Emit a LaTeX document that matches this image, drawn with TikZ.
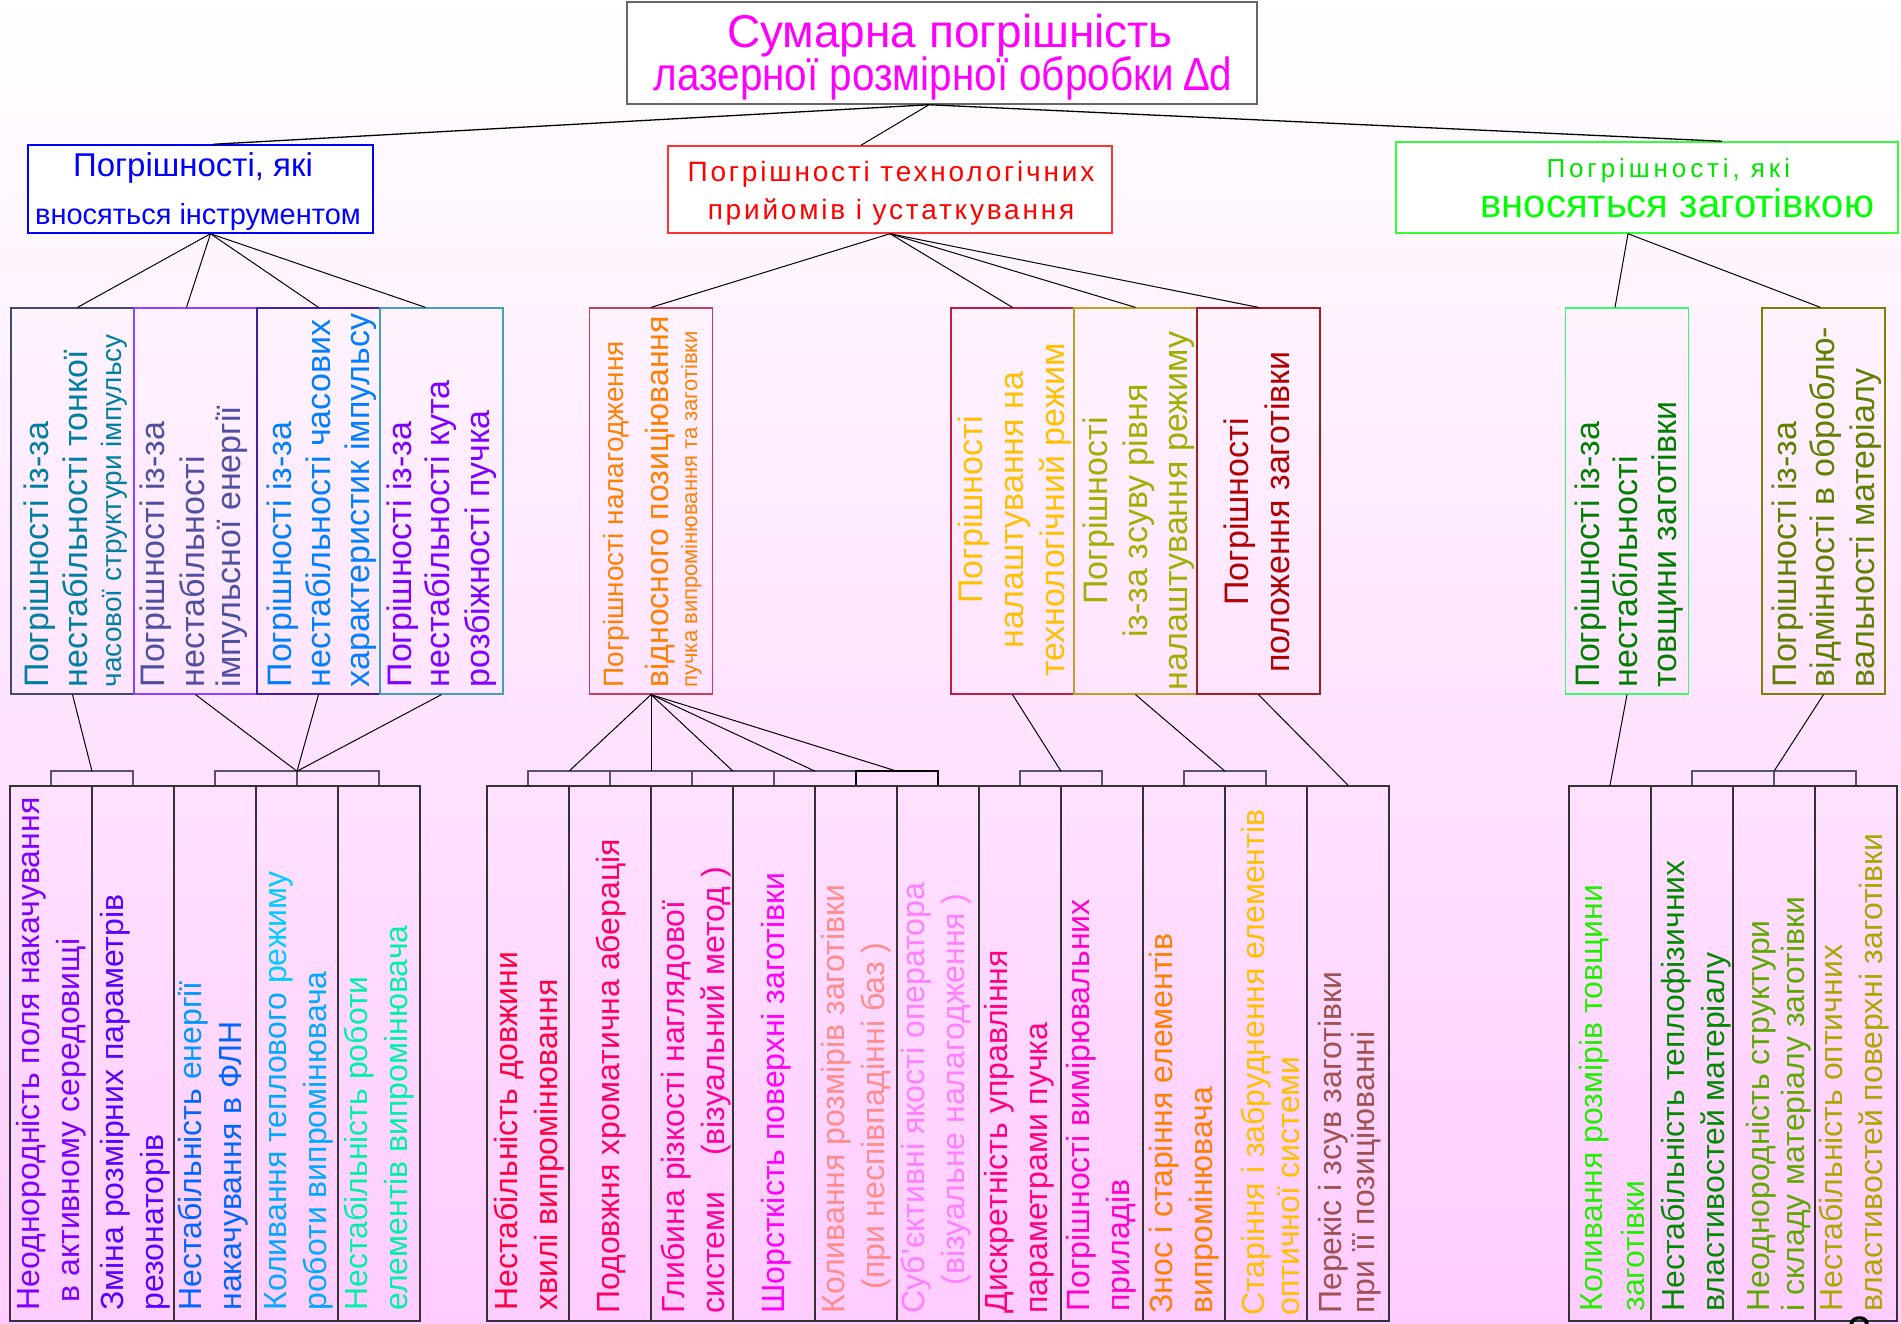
\documentclass[tikz,border=0pt]{standalone}
\usepackage{graphicx}
\usepackage{fontspec}
\setmainfont{Liberation Sans}
\usetikzlibrary{calc,positioning}

% Colours of frames and texts
\definecolor{bgpink}{HTML}{FFCCFF}
\definecolor{titlegray}{HTML}{666666}
\definecolor{titlemag}{HTML}{FF00FF}
\definecolor{instblue}{HTML}{0000FF}
\definecolor{techred}{HTML}{FF0000}
\definecolor{workgreen}{HTML}{00FF00}
\definecolor{lowframe}{HTML}{333333}
\definecolor{bracketgray}{HTML}{555566}

\tikzset{
  headbox/.style={draw, line width=1.5pt, fill=white, inner sep=0pt},
  midbox/.style={draw, line width=1.2pt, inner sep=0pt, minimum width=123pt, minimum height=386pt},
  lowbox/.style={draw=lowframe, line width=1.6pt, inner sep=0pt, minimum width=82pt, minimum height=535pt},
  link/.style={line width=1pt},
  bracket/.style={draw=bracketgray, line width=1.5pt}
}

\begin{document}
\begin{tikzpicture}[x=1pt,y=-1pt]
  % Colors
  \definecolor{frameA}{HTML}{404878}
  \definecolor{frameB}{HTML}{9040FF}
  \definecolor{frameC}{HTML}{4020A0}
  \definecolor{frameD}{HTML}{40A0C0}
  \definecolor{frameE}{HTML}{C04060}
  \definecolor{frameF}{HTML}{C02040}
  \definecolor{frameG}{HTML}{C0A020}
  \definecolor{frameH}{HTML}{A02020}
  \definecolor{frameI}{HTML}{33FF66}
  \definecolor{frameJ}{HTML}{808000}
  \definecolor{txtA}{HTML}{0080A0}
  \definecolor{txtB}{HTML}{5050A0}
  \definecolor{txtC}{HTML}{0080FF}
  \definecolor{txtD}{HTML}{8000FF}
  \definecolor{txtE}{HTML}{FF8000}
  \definecolor{txtF}{HTML}{FFC000}
  \definecolor{txtG}{HTML}{A0B000}
  \definecolor{txtH}{HTML}{B00000}
  \definecolor{txtI}{HTML}{008000}
  \definecolor{txtJ}{HTML}{608000}
  \definecolor{low1}{HTML}{8000FF}
  \definecolor{low2}{HTML}{5A00FF}
  \definecolor{low3}{HTML}{0066FF}
  \definecolor{low3b}{HTML}{0099FF}
  \definecolor{low4}{HTML}{00AAFF}
  \definecolor{low4b}{HTML}{00CCFF}
  \definecolor{low5}{HTML}{00F0A8}
  \definecolor{low6}{HTML}{FF0040}
  \definecolor{low7}{HTML}{FF0060}
  \definecolor{low8}{HTML}{FF00A0}
  \definecolor{low9}{HTML}{FF00FF}
  \definecolor{low10}{HTML}{FF8C8C}
  \definecolor{low11}{HTML}{FF80FF}
  \definecolor{low12}{HTML}{FF0080}
  \definecolor{low13}{HTML}{FF00CC}
  \definecolor{low16}{HTML}{A05050}
  \definecolor{low17}{HTML}{22EE00}
  \definecolor{low18}{HTML}{008A00}
  \definecolor{low19}{HTML}{5FA800}
  \definecolor{low20}{HTML}{A8A800}

  % Styles
  \tikzstyle{vtext}=[rotate=90, anchor=north west, inner sep=0pt, align=left, font=\fontsize{32}{40}\selectfont]
  \tikzstyle{mtext}=[rotate=90, anchor=north west, inner sep=0pt, align=left, font=\fontsize{34}{39}\selectfont]
  \tikzstyle{ctext}=[rotate=90, anchor=north, inner sep=0pt, align=center, font=\fontsize{34}{41}\selectfont]

  % Background
  \shade[top color=white, bottom color=bgpink] (0,0) rectangle (1901,1324);
  \useasboundingbox (0,0) rectangle (1901,1324);

  % Head boxes
  \node[headbox, draw=titlegray, minimum width=630pt, minimum height=102pt] (total) at (942,53) {};
  \node[font=\fontsize{46}{46}\selectfont, text=titlemag, anchor=base] (title1) at (950,48)
    {Сумарна погрішність};
  \node[font=\fontsize{46.5}{46.5}\selectfont, text=titlemag, anchor=base] (title2) at (943,91)
    {\scalebox{0.87}[1]{лазерної розмірної обробки ∆d}};

  \node[headbox, draw=instblue, minimum width=345pt, minimum height=88pt] (inst) at (200.5,189) {};
  \node[font=\fontsize{33}{33}\selectfont, text=instblue, anchor=base] (inst1) at (193,177) {Погрішності, які};
  \node[font=\fontsize{29}{29}\selectfont, text=instblue, anchor=base] (inst2) at (198,225) {вносяться інструментом};

  \node[headbox, draw=techred!80, minimum width=444pt, minimum height=87pt] (tech) at (890,189.5) {};
  \node[font=\fontsize{28}{28}\selectfont\addfontfeatures{LetterSpace=10}, text=techred, anchor=base] (tech1) at (891,182) {Погрішності технологічних};
  \node[font=\fontsize{28}{28}\selectfont\addfontfeatures{LetterSpace=10}, text=techred, anchor=base] (tech2) at (891,220) {прийомів і устаткування};

  \node[headbox, draw=workgreen!80!white, minimum width=502pt, minimum height=91pt] (work) at (1647,187.5) {};
  \node[font=\fontsize{26}{26}\selectfont\addfontfeatures{LetterSpace=15}, text=workgreen!90!black, anchor=base west] (work1) at (1543,178) {Погрішності, які};
  \node[font=\fontsize{40}{40}\selectfont, text=workgreen, anchor=base west] (work2) at (1477,218) {вносяться заготівкою};

  % Middle frames
  \foreach \i/\x/\c in {1/72.5/frameA, 2/195.5/frameB, 3/318.5/frameC, 4/441.5/frameD,
                        5/651/frameE, 6/1012.5/frameF, 7/1135.5/frameG, 8/1258.5/frameH,
                        9/1627/frameI, 10/1823.5/frameJ}
    \node[midbox, draw=\c] (l\i) at (\x,501) {};

  \node[mtext, text=txtA] (m1) at ([shift={(10.7,-7)}]l1.south west)
    {\strut Погрішності із-за\\ нестабільності тонкої\\[-5pt] {\fontsize{28}{39}\selectfont часової структури імпульсу}};
  \node[mtext, text=txtB] (m2) at ([shift={(3.7,-7)}]l2.south west)
    {\strut Погрішності із-за\\[1pt] нестабільності\\[-3pt] імпульсної енергії};
  \node[mtext, text=txtC] (m3) at ([shift={(7.7,-7)}]l3.south west)
    {\strut Погрішності із-за\\ нестабільності часових\\ характеристик імпульсу};
  \node[mtext, text=txtD] (m4) at ([shift={(4.7,-7)}]l4.south west)
    {\strut Погрішності із-за\\[-1pt] нестабільності кута\\[1pt] розбіжності пучка};
  \node[mtext, font=\fontsize{28}{40}\selectfont, text=txtE] (m5) at ([shift={(6,-7)}]l5.south west)
    {\strut Погрішності налагодження\\[5pt] {\fontsize{32}{40}\selectfont відносного позиціювання}\\[-11pt]
     {\fontsize{22}{40}\selectfont пучка випромінювання та заготівки}};
  \node[ctext, text=txtF] (m6) at ([shift={(3.3,9)}]l6.west)
    {\strut Погрішності\\ налаштування на\\ технологічний режим};
  \node[ctext, font=\fontsize{34}{40}\selectfont, text=txtG] (m7) at ([shift={(6,10)}]l7.west)
    {\strut Погрішності\\ із-за зсуву рівня\\ налаштування режиму};
  \node[ctext, text=txtH] (m8) at ([shift={(23.3,11)}]l8.west)
    {\strut Погрішності\\ положення заготівки};
  \node[mtext, text=txtI] (m9) at ([shift={(6.7,-7)}]l9.south west)
    {\strut Погрішності із-за\\[-1pt] нестабільності\\ товщини заготівки};
  \node[mtext, text=txtJ] (m10) at ([shift={(7.7,-7)}]l10.south west)
    {\strut Погрішності із-за\\[-1pt] відмінності в оброблю-\\[1pt] вальності матеріалу};

  % Lower frames
  \foreach \i in {1,...,5}
    \node[lowbox] (b\i) at ({10+82*\i-41},1053.5) {};
  \foreach \i in {6,...,16}
    \node[lowbox] (b\i) at ({487+82*(\i-6)+41},1053.5) {};
  \foreach \i in {17,...,20}
    \node[lowbox] (b\i) at ({1569+82*(\i-17)+41},1053.5) {};

  % Lower texts
  \node[vtext, text=low1] (t1) at ([shift={(2,-11)}]b1.south west)
    {\strut Неоднородність поля накачування\\ \hspace*{8pt}в активному середовищі};
  \node[vtext, text=low2] (t2) at ([shift={(4,-11)}]b2.south west)
    {\strut Зміна розмірних параметрів\\ резонаторів};
  \node[vtext, text=low3] (t3) at ([shift={(0,-11)}]b3.south west)
    {\strut Нестабільність {\color{low3b}енергії}\\ накачування в ФЛН};
  \node[vtext, text=low4] (t4) at ([shift={(3,-11)}]b4.south west)
    {\strut Коливання теплового {\color{low4b}режиму}\\ роботи випромінювача};
  \node[vtext, text=low5] (t5) at ([shift={(2,-11)}]b5.south west)
    {\strut Нестабільність роботи\\ елементів випромінювача};
  \node[vtext, text=low6] (t6) at ([shift={(3,-11)}]b6.south west)
    {\strut Нестабільність довжини\\ хвилі випромінювання};
  \node[vtext, text=low7] (t7) at ([shift={(23,-8)}]b7.south west)
    {\strut Подовжня хроматична аберація};
  \node[vtext, text=low8] (t8) at ([shift={(6,-8)}]b8.south west)
    {\strut Глибина різкості наглядової\\ системи\hspace{36pt}(візуальний метод )};
  \node[vtext, text=low9] (t9) at ([shift={(24,-8)}]b9.south west)
    {\strut Шорсткість поверхні заготівки};
  \node[vtext, text=low10] (t10) at ([shift={(2,-8)}]b10.south west)
    {\strut Коливання розмірів заготівки\\ \hspace*{24pt}(при неспівпадінні баз )};
  \node[vtext, text=low11] (t11) at ([shift={(0,-8)}]b11.south west)
    {\strut Суб'єктивні якості оператора\\ \hspace*{28pt}(візуальне налагодження )};
  \node[vtext, text=low12] (t12) at ([shift={(1,-8)}]b12.south west)
    {\strut Дискретність управління\\ параметрами пучка};
  \node[vtext, text=low13] (t13) at ([shift={(1,-10)}]b13.south west)
    {\strut Погрішності вимірювальних\\ приладів};
  \node[vtext, text=txtE] (t14) at ([shift={(2,-8)}]b14.south west)
    {\strut Знос і старіння елементів\\ випромінювача};
  \node[vtext, text=txtF] (t15) at ([shift={(12,-6)}]b15.south west)
    {\strut Старіння і забруднення елементів\\[-5pt] оптичної системи};
  \node[vtext, text=low16] (t16) at ([shift={(7,-8)}]b16.south west)
    {\strut Перекіс і зсув заготівки\\[-7pt] при її позиціюванні};
  \node[vtext, text=low17] (t17) at ([shift={(6,-10)}]b17.south west)
    {\strut Коливання розмірів товщини\\[2pt] заготівки};
  \node[vtext, text=low18] (t18) at ([shift={(6,-10)}]b18.south west)
    {\strut Нестабільність теплофізичних\\ властивостей матеріалу};
  \node[vtext, text=low19] (t19) at ([shift={(9,-10)}]b19.south west)
    {\strut Неоднородність структури\\[-5pt] і складу матеріалу заготівки};
  \node[vtext, text=low20] (t20) at ([shift={(0,-10)}]b20.south west)
    {\strut Нестабільність оптичних\\ властивостей поверхні заготівки};

  % Upper connectors
  \draw[link, line width=1.3pt] ([xshift=-13pt]total.south) -- ([xshift=13pt]inst.north);
  \draw[link] ([xshift=-13pt]total.south) -- ([xshift=-29pt]tech.north);
  \draw[link, line width=1.3pt] ([xshift=-13pt]total.south) -- ([xshift=75pt]work.north);

  \foreach \i/\dx in {1/5,2/-9,3/0,4/-16}
    \draw[link] ([xshift=10pt]inst.south) -- ([xshift=\dx pt]l\i.north);
  \foreach \i in {5,...,8}
    \draw[link] (tech.south) -- (l\i.north);
  \foreach \i/\dx in {9/-12,10/-3}
    \draw[link] ([xshift=-19pt]work.south) -- ([xshift=\dx pt]l\i.north);

  % Brackets and lower connectors
  \draw[bracket] (b1.north) -- ++(0,-14) -| (b2.north);
  \draw[link] (l1.south) -- ($(b1.north)!.5!(b2.north)+(0,-14)$);

  \draw[bracket] (b3.north) -- ++(0,-14) -| (b5.north);
  \draw[bracket] (b4.north) -- ++(0,-14) coordinate (k2);
  \foreach \i in {2,3,4}
    \draw[link] (l\i.south) -- (k2);

  \draw[bracket] (b6.north) -- ++(0,-14) -| (b10.north);
  \foreach \i in {7,8,9}
    \draw[bracket] (b\i.north) -- ++(0,-14);
  \draw[bracket, draw=black, line width=2pt] (b10.north) -- ++(0,-14) -| (b11.north);
  \foreach \i/\j in {6/7,7/8,8/9,9/10,10/11}
    \draw[link] (l5.south) -- ($(b\i.north)!.5!(b\j.north)+(0,-14)$);

  \draw[bracket] (b12.north) -- ++(0,-14) -| (b13.north);
  \draw[link] (l6.south) -- ($(b12.north)!.5!(b13.north)+(0,-14)$);
  \draw[bracket] (b14.north) -- ++(0,-14) -| (b15.north);
  \draw[link] (l7.south) -- ($(b14.north)!.5!(b15.north)+(0,-14)$);
  \draw[link] (l8.south) -- (b16.north);

  \draw[link] (l9.south) -- (b17.north);
  \draw[bracket] (b18.north) -- ++(0,-14) -| (b20.north);
  \draw[bracket] (b19.north) -- ++(0,-14) coordinate (k6);
  \draw[link] (l10.south) -- (k6);

  % Slide number, cut by the page edge
  \node[font=\fontsize{44}{44}\selectfont, anchor=north, inner sep=0pt] (pagenum) at (1860,1317) {2};
\end{tikzpicture}
\end{document}
